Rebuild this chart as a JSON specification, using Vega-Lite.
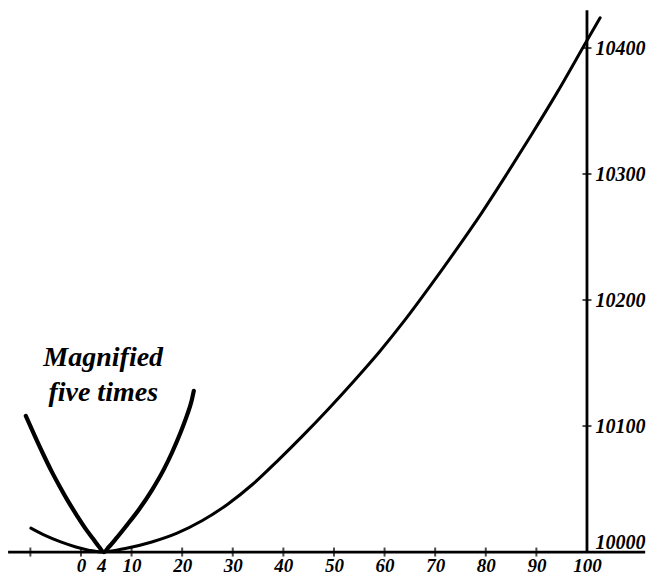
{
  "$schema": "https://vega.github.io/schema/vega-lite/v6.json",
  "width": 652,
  "height": 577,
  "autosize": "none",
  "padding": 0,
  "background": "white",
  "config": {"view": {"stroke": null}},
  "datasets": {
    "main": [
      {"x": -9.9, "y": 10019}, {"x": -7, "y": 10013}, {"x": -4, "y": 10008}, {"x": -1, "y": 10004},
      {"x": 1.5, "y": 10001.5}, {"x": 4, "y": 10000}, {"x": 7, "y": 10001.5}, {"x": 9, "y": 10003},
      {"x": 14, "y": 10008}, {"x": 19, "y": 10015}, {"x": 24, "y": 10025}, {"x": 29, "y": 10038},
      {"x": 34, "y": 10054}, {"x": 39, "y": 10073}, {"x": 44, "y": 10093}, {"x": 49, "y": 10114},
      {"x": 54, "y": 10136}, {"x": 59, "y": 10159}, {"x": 64, "y": 10184}, {"x": 69, "y": 10211},
      {"x": 74, "y": 10239}, {"x": 79, "y": 10268}, {"x": 84, "y": 10299}, {"x": 89, "y": 10331},
      {"x": 94, "y": 10364}, {"x": 100, "y": 10406}, {"x": 102.6, "y": 10424}
    ],
    "mag": [
      {"x": -10.9, "y": 10108}, {"x": -9, "y": 10091}, {"x": -7.5, "y": 10078}, {"x": -5.8, "y": 10064},
      {"x": -4.2, "y": 10052}, {"x": -2.5, "y": 10040}, {"x": -0.8, "y": 10029}, {"x": 1, "y": 10018},
      {"x": 2.4, "y": 10010.5}, {"x": 3.6, "y": 10004}, {"x": 4.5, "y": 10000}, {"x": 5.5, "y": 10004},
      {"x": 7, "y": 10011}, {"x": 9, "y": 10021}, {"x": 11.5, "y": 10034}, {"x": 14, "y": 10049},
      {"x": 16.3, "y": 10065}, {"x": 18, "y": 10079}, {"x": 19.7, "y": 10095}, {"x": 21, "y": 10109},
      {"x": 21.8, "y": 10119}, {"x": 22.3, "y": 10128}
    ],
    "xticks": [
      {"x": -10}, {"x": 0}, {"x": 10}, {"x": 20}, {"x": 30}, {"x": 40}, {"x": 50}, {"x": 60}, {"x": 70}, {"x": 80}, {"x": 90}
    ],
    "yticks": [
      {"y": 10100}, {"y": 10200}, {"y": 10300}, {"y": 10400}
    ],
    "axes": [
      {"x": -14.4, "x2": 111.5, "y": 10000, "y2": 10000},
      {"x": 100, "x2": 100, "y": 10000, "y2": 10430}
    ],
    "note": [
      {"text": "Magnified\nfive times", "x": 4.4, "y": 10154}
    ]
  },
  "encoding": {
    "x": {"type": "quantitative", "scale": {"domain": [-16, 112.85], "nice": false, "zero": false}},
    "y": {"type": "quantitative", "scale": {"domain": [9980.2, 10438.1], "nice": false, "zero": false}}
  },
  "layer": [
    {
      "data": {"name": "axes"},
      "mark": {"type": "rule", "strokeWidth": 2.8, "color": "black"},
      "encoding": {
        "x": {"field": "x", "type": "quantitative",
          "axis": {"orient": "bottom", "offset": -25, "values": [0, 4, 10, 20, 30, 40, 50, 60, 70, 80, 90, 100],
            "format": "d", "domain": false, "ticks": false, "tickSize": 0, "grid": false, "title": null,
            "labelFont": "Liberation Serif", "labelFontStyle": "italic", "labelFontWeight": "bold",
            "labelFontSize": 19, "labelColor": "black", "labelPadding": 4, "labelBaseline": "top"}},
        "x2": {"field": "x2"},
        "y": {"field": "y", "type": "quantitative",
          "axis": {"orient": "right", "offset": -65, "values": [10000, 10100, 10200, 10300, 10400],
            "format": "d", "domain": false, "ticks": false, "tickSize": 0, "grid": false, "title": null,
            "labelFont": "Liberation Serif", "labelFontStyle": "italic", "labelFontWeight": "bold",
            "labelFontSize": 20, "labelColor": "black", "labelPadding": 8, "labelAlign": "left",
            "labelBaseline": {"condition": {"test": "datum.value == 10000", "value": "bottom"}, "value": "middle"}}},
        "y2": {"field": "y2"}
      }
    },
    {
      "data": {"name": "xticks"},
      "mark": {"type": "tick", "orient": "vertical", "size": 9, "thickness": 2, "color": "black"},
      "encoding": {
        "x": {"field": "x", "type": "quantitative"},
        "y": {"datum": 10000, "type": "quantitative"}
      }
    },
    {
      "data": {"name": "yticks"},
      "mark": {"type": "tick", "orient": "horizontal", "size": 9, "thickness": 2, "color": "black"},
      "encoding": {
        "x": {"datum": 100, "type": "quantitative"},
        "y": {"field": "y", "type": "quantitative"}
      }
    },
    {
      "data": {"name": "main"},
      "mark": {"type": "line", "interpolate": "monotone", "strokeWidth": 3, "color": "black", "strokeCap": "round"},
      "encoding": {
        "x": {"field": "x", "type": "quantitative"},
        "y": {"field": "y", "type": "quantitative"}
      }
    },
    {
      "data": {"name": "mag"},
      "mark": {"type": "line", "interpolate": "monotone", "strokeWidth": 4.2, "color": "black", "strokeCap": "round"},
      "encoding": {
        "x": {"field": "x", "type": "quantitative"},
        "y": {"field": "y", "type": "quantitative"}
      }
    },
    {
      "data": {"name": "note"},
      "mark": {"type": "text", "font": "Liberation Serif", "fontStyle": "italic", "fontWeight": "bold",
        "fontSize": 28, "lineBreak": "\n", "lineHeight": 35, "align": "center", "baseline": "middle", "color": "black"},
      "encoding": {
        "x": {"field": "x", "type": "quantitative"},
        "y": {"field": "y", "type": "quantitative"},
        "text": {"field": "text"}
      }
    }
  ]
}
